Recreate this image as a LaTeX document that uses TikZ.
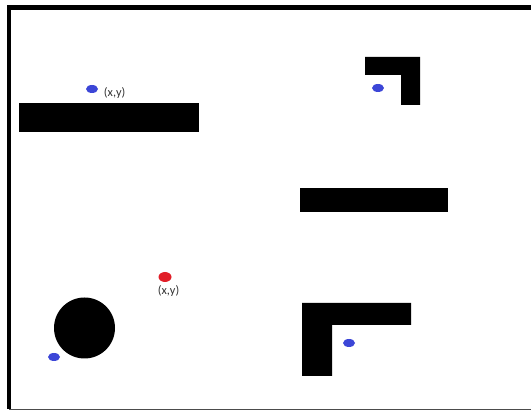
\documentclass[tikz,border=0pt]{standalone}
\usepackage{fontspec}
\setmainfont{Carlito}
\usetikzlibrary{positioning}
\usetikzlibrary{shapes.geometric}
\definecolor{goalblue}{RGB}{60,70,215}
\definecolor{robotred}{RGB}{225,30,40}
\newlength{\px}
\setlength{\px}{0.02cm}
\tikzset{
  wall/.style={draw=none, fill=black},
  frameline/.style={line width=2.4pt, black},
  goal/.style={ellipse, draw=none, fill=goalblue, minimum width=12\px, minimum height=8\px, inner sep=0pt},
  robot/.style={ellipse, draw=none, fill=robotred, minimum width=13\px, minimum height=10\px, inner sep=0pt},
  posno/.style={draw=none, fill=none, black!80!white, font=\fontsize{7}{8}\selectfont, inner sep=1pt},
}
\begin{document}
\begin{tikzpicture}[x=0.02cm, y=-0.02cm]
\useasboundingbox (0,0) rectangle (531,411);
% frame
\draw[frameline] (9,409) -- (9,7.5) -- (531,7.5);
\draw[line width=1pt, black!70!white] (9,409.5) -- (531,409.5);
% obstacles
\fill[wall] (19,103) rectangle (199,132);
\fill[wall] (300,188) rectangle (448,212);
\fill[wall] (365,57) -- (420,57) -- (420,105) -- (401,105) -- (401,75) -- (365,75) -- cycle;
\fill[wall] (302,303) -- (411,303) -- (411,325) -- (332,325) -- (332,376) -- (302,376) -- cycle;
\fill[wall] (84.5,328) circle (30.5);
% goals and robot
\node[goal] (g1) at (92,89) {};
\node[posno, right=2pt of g1, yshift=-2.5pt] (g1lab) {(x,y)};
\node[goal] (g2) at (378,88) {};
\node[goal] (g3) at (349,343) {};
\node[goal] (g4) at (54,357) {};
\node[robot] (r) at (165,277) {};
\node[posno, below=0.5pt of r, xshift=2pt] (rlab) {(x,y)};
\end{tikzpicture}
\end{document}
